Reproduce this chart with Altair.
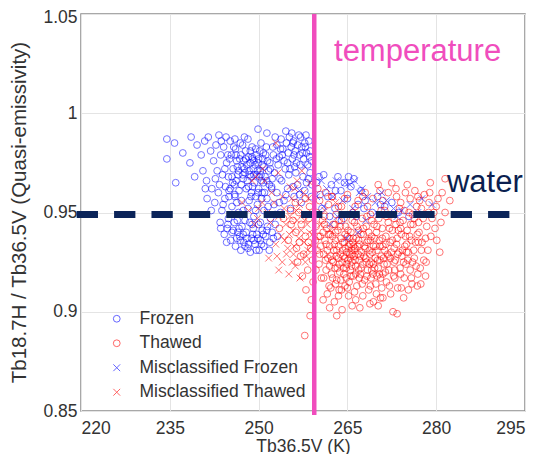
import altair as alt
import pandas as pd

# ---------------- data ----------------
frozen_pts = [
    (234.5,0.987),(235.8,0.985),(234.5,0.977),(236.0,0.965),(238.4,0.975),(238.6,0.988),(239.6,0.984),(240.3,0.979),
    (240.9,0.986),(241.5,0.988),(241.9,0.981),(242.4,0.976),(240.6,0.971),(239.2,0.968),(241.2,0.966),(242.8,0.984),
    (243.3,0.989),(243.6,0.979),(242.1,0.962),(243.0,0.971),(237.2,0.980),(241.0,0.962),
    (244.1,0.983),(244.6,0.975),(244.9,0.968),(245.2,0.986),(245.4,0.979),(245.7,0.972),(245.9,0.964),(246.1,0.982),
    (246.3,0.976),(246.5,0.969),(246.7,0.961),(246.9,0.985),(247.0,0.979),(247.2,0.973),(247.4,0.967),(247.5,0.976),
    (247.7,0.970),(247.8,0.981),(248.0,0.974),(248.1,0.966),(248.3,0.978),(248.4,0.971),(248.6,0.975),(248.7,0.968),
    (248.9,0.983),(249.0,0.977),(249.1,0.972),(249.3,0.965),(249.4,0.974),(249.6,0.979),(249.7,0.969),(249.9,0.975),
    (250.0,0.962),(250.2,0.981),(250.3,0.971),(250.5,0.966),(250.7,0.977),(250.9,0.973),(251.1,0.968),(251.3,0.983),
    (251.5,0.976),(251.8,0.964),(252.0,0.972),(244.4,0.963),(245.0,0.961),(246.0,0.958),(247.9,0.962),(248.8,0.960),
    (249.5,0.958),(251.0,0.960),(252.3,0.967),(252.5,0.979),(247.3,0.984),(248.2,0.987),(246.8,0.977),(247.6,0.972),
    (248.5,0.969),(249.2,0.976),(249.8,0.971),(250.6,0.974),(245.5,0.968),(246.4,0.973),(247.1,0.964),(248.9,0.978),
    (250.1,0.968),(251.2,0.979),(244.8,0.979),(245.8,0.983),(250.4,0.985),(251.7,0.971),(252.2,0.962),(243.9,0.969),
    (246.2,0.966),(249.0,0.963),(250.8,0.965),
    (244.3,0.972),(245.1,0.977),(245.6,0.965),(246.2,0.979),(246.6,0.971),(247.3,0.969),(247.8,0.977),(248.3,0.963),
    (248.6,0.981),(249.2,0.969),(249.5,0.982),(250.0,0.977),(250.4,0.969),(250.8,0.980),(251.4,0.966),(251.9,0.975),
    (252.4,0.983),(252.7,0.970),(253.0,0.977),(253.6,0.967),(246.0,0.987),(247.6,0.988),(243.7,0.986),(244.5,0.988),
    (242.7,0.967),(243.4,0.964),
    (249.9,0.992),(251.4,0.990),(254.6,0.991),(253.1,0.984),(253.5,0.978),(253.8,0.987),(254.1,0.982),(254.3,0.976),
    (254.7,0.985),(255.0,0.980),(255.2,0.988),(255.5,0.983),(255.7,0.977),(255.9,0.986),(256.2,0.981),(256.4,0.975),
    (256.6,0.984),(256.9,0.979),(257.1,0.988),(257.3,0.983),(257.6,0.977),(257.8,0.985),(258.1,0.980),(258.3,0.974),
    (258.5,0.986),(258.7,0.981),(254.9,0.975),(256.0,0.979),(257.0,0.974),(253.3,0.974),(255.3,0.972),(252.8,0.988),
    (256.8,0.989),(258.9,0.976),
    (254.0,0.979),(254.5,0.972),(255.6,0.990),(256.1,0.973),(257.4,0.980),(258.0,0.989),(258.6,0.978),(253.7,0.982),
    (255.8,0.985),(257.9,0.983),
    (241.3,0.957),(242.6,0.955),(243.2,0.960),(243.8,0.951),(244.3,0.957),(244.9,0.947),(245.5,0.953),(246.0,0.959),
    (246.6,0.950),(247.1,0.956),(247.7,0.946),(248.2,0.952),(248.7,0.958),(249.2,0.948),(249.8,0.954),(250.3,0.945),
    (250.9,0.951),(251.4,0.957),(252.0,0.947),(252.6,0.954),(253.1,0.960),(253.7,0.950),(254.3,0.956),(254.9,0.962),
    (255.4,0.952),(256.0,0.958),(256.6,0.964),(257.2,0.955),(257.8,0.961),(258.4,0.967),(258.9,0.958),(253.9,0.966),
    (255.1,0.969),(256.3,0.970),(252.2,0.963),(250.6,0.960),(245.2,0.962),(242.0,0.951),(243.5,0.945),(244.7,0.942),
    (257.5,0.968),(258.7,0.970),(259.0,0.964),
    (244.0,0.954),(245.0,0.958),(246.3,0.955),(247.4,0.951),(248.4,0.956),(249.5,0.951),(250.5,0.957),(251.6,0.953),
    (252.8,0.949),(253.5,0.955),(254.6,0.959),(255.8,0.963),(256.9,0.959),(258.1,0.965),(249.9,0.960),
    (244.2,0.939),(244.8,0.944),(245.3,0.936),(245.7,0.941),(246.1,0.933),(246.4,0.946),(246.8,0.938),(247.2,0.943),
    (247.5,0.935),(247.9,0.940),(248.2,0.932),(248.5,0.945),(248.8,0.937),(249.1,0.942),(249.4,0.934),(249.7,0.939),
    (250.0,0.944),(250.3,0.936),(250.6,0.941),(250.9,0.933),(251.2,0.938),(251.5,0.943),(251.9,0.935),(252.3,0.940),
    (252.8,0.944),(247.0,0.931),(248.6,0.930),(250.1,0.931),(249.2,0.936),(248.0,0.937),(246.5,0.940),(245.9,0.945),
    (243.6,0.942),(253.2,0.938),(251.8,0.931),(247.7,0.933),(249.9,0.937),(250.8,0.939),(246.9,0.936),
    (244.6,0.935),(245.5,0.940),(246.3,0.937),(247.4,0.939),(248.3,0.934),(249.0,0.939),(249.6,0.931),(250.5,0.934),
    (251.4,0.941),(252.5,0.937),(246.7,0.942),(248.9,0.944),
    (259.8,0.965),(260.4,0.959),(261.0,0.969),(261.7,0.958),(262.3,0.964),(262.9,0.952),(263.4,0.968),(263.9,0.961),
    (264.5,0.965),(265.0,0.957),(265.6,0.963),(266.1,0.967),(266.8,0.954),(267.3,0.961),(268.0,0.956),(269.2,0.950),
    (270.1,0.958),(271.3,0.953),(272.5,0.955),(273.6,0.950),(275.4,0.948),(260.7,0.952),(264.0,0.946),(266.5,0.948),
    (262.0,0.948),(260.2,0.968),(263.0,0.961),(265.2,0.968),(267.8,0.952),(270.6,0.954),
]

thawed_pts = [
    (259.7,0.943),(259.9,0.931),(260.2,0.924),(260.4,0.938),(260.6,0.917),(260.8,0.946),(261.0,0.929),
    (261.2,0.936),(261.4,0.921),(261.5,0.942),(261.7,0.927),(261.9,0.913),(262.0,0.933),
    (262.1,0.939),(262.3,0.919),(262.4,0.926),(262.6,0.944),(262.7,0.931),(262.9,0.922),(263.0,0.936),
    (263.1,0.928),(263.2,0.916),(263.4,0.941),(263.5,0.933),(263.6,0.924),(263.8,0.929),(263.9,0.937),(264.0,0.911),
    (264.1,0.925),(264.2,0.931),(264.4,0.919),(264.5,0.935),(264.6,0.927),(264.7,0.943),(264.8,0.922),(264.9,0.930),(265.0,0.938),
    (265.1,0.926),(265.2,0.933),(265.3,0.915),(265.4,0.929),(265.5,0.921),(265.6,0.940),(265.7,0.931),(265.8,0.925),(265.9,0.935),
    (266.0,0.918),(266.1,0.928),(266.2,0.945),(266.3,0.932),(266.4,0.923),(266.5,0.937),(266.6,0.913),(266.8,0.929),(266.9,0.941),
    (267.0,0.926),(267.1,0.934),(267.2,0.919),(267.4,0.930),(267.5,0.947),(267.6,0.924),(267.7,0.939),(267.9,0.916),
    (268.0,0.932),(268.1,0.927),(268.2,0.943),(268.4,0.921),(268.5,0.936),(268.6,0.911),(268.8,0.929),(268.9,0.949),
    (269.0,0.925),(269.1,0.938),(269.3,0.919),(269.4,0.933),(269.5,0.944),(269.7,0.927),(269.8,0.914),(269.9,0.940),
    (270.0,0.931),(270.2,0.922),(270.3,0.947),(270.4,0.936),(270.6,0.917),(270.7,0.928),(270.9,0.942),
    (271.0,0.933),(271.2,0.924),(271.3,0.951),(271.5,0.938),(271.6,0.915),(271.8,0.929),(271.9,0.945),
    (272.0,0.921),(272.2,0.935),(272.3,0.927),(272.5,0.949),(272.6,0.941),(272.8,0.918),(272.9,0.932),
    (273.1,0.926),(273.2,0.944),(273.4,0.937),(273.5,0.912),(273.7,0.930),(273.8,0.952),(273.9,0.922),
    (274.1,0.939),(274.2,0.928),(274.4,0.946),(274.6,0.917),(274.7,0.933),(274.9,0.924),
    (275.1,0.941),(275.3,0.930),(275.4,0.950),(275.6,0.921),(275.8,0.936),(275.9,0.914),
    (276.1,0.944),(276.3,0.927),(276.5,0.935),(276.7,0.953),(276.9,0.919),
    (277.1,0.940),(277.3,0.922),(277.5,0.931),(277.8,0.947),(277.9,0.926),
    (278.2,0.937),(278.4,0.943),(278.6,0.931),(278.8,0.955),
    (279.3,0.947),(279.8,0.942),(280.1,0.936),(280.6,0.930),(281.5,0.950),(280.3,0.957),
    (261.6,0.931),(262.2,0.928),(262.8,0.934),(263.3,0.922),(263.7,0.920),(264.3,0.928),(264.9,0.924),(265.4,0.934),
    (265.8,0.929),(266.3,0.926),(266.7,0.933),(267.3,0.922),(267.8,0.928),(268.3,0.935),(268.7,0.924),(269.2,0.930),
    (269.6,0.922),(270.1,0.926),(270.5,0.933),(271.1,0.927),(271.4,0.920),(262.5,0.917),(263.9,0.916),(265.6,0.918),
    (267.5,0.914),(269.0,0.917),(270.8,0.912),(264.6,0.939),(266.0,0.937),(268.6,0.940),
    (259.8,0.950),(260.3,0.956),(261.1,0.948),(261.8,0.954),(262.4,0.958),(263.1,0.949),(264.0,0.953),(265.0,0.959),
    (265.9,0.950),(266.8,0.956),(267.6,0.958),(268.4,0.953),(269.3,0.957),(270.2,0.964),(271.0,0.956),(271.9,0.960),
    (272.5,0.965),(273.3,0.958),(274.0,0.955),(274.8,0.960),(275.6,0.957),(276.4,0.961),(277.2,0.956),(278.0,0.959),
    (279.0,0.965),(281.0,0.960),(282.3,0.956),(281.5,0.967),(280.0,0.953),(278.7,0.950),(277.5,0.952),(276.0,0.949),
    (268.0,0.960),(262.4,0.958),
    (257.8,0.888),(258.7,0.898),(260.9,0.906),(263.2,0.898),(264.1,0.901),(267.1,0.902),(268.8,0.904),(272.7,0.900),
    (273.4,0.899),(271.0,0.907),(261.6,0.909),(262.8,0.905),(265.2,0.908),(266.4,0.906),(269.9,0.909),(274.5,0.907),
    (275.3,0.911),(276.8,0.913),(278.2,0.918),(277.4,0.914),(270.2,0.903),(263.6,0.911),(262.0,0.902),
    (255.8,0.946),(256.3,0.940),(256.9,0.935),(257.2,0.944),(257.6,0.929),(257.9,0.938),(258.3,0.921),(258.5,0.947),
    (258.8,0.932),(259.1,0.926),(259.2,0.915),(258.0,0.911),(257.4,0.918),(256.6,0.925),(255.4,0.951),(254.2,0.947),
    (253.5,0.942),(255.0,0.936),(256.2,0.955),(258.9,0.906),
    (257.9,0.957),(258.6,0.953),(256.8,0.950),(260.0,0.962),(261.3,0.960),
    (260.5,0.933),(261.3,0.926),(261.8,0.939),(262.6,0.925),(263.0,0.940),(263.5,0.927),(264.2,0.935),(264.8,0.917),
    (265.3,0.937),(265.7,0.923),(266.2,0.931),(266.9,0.921),(267.3,0.939),(267.9,0.933),(268.3,0.918),(268.9,0.936),
    (269.4,0.924),(269.8,0.933),(270.4,0.919),(270.9,0.937),(271.3,0.931),(271.7,0.924),(272.1,0.942),(272.4,0.930),
    (272.9,0.925),(273.3,0.934),(273.6,0.941),(274.0,0.919),(274.3,0.931),(274.8,0.938),(275.2,0.926),(275.7,0.944),
    (276.2,0.931),(276.6,0.923),(277.0,0.935),(262.9,0.944),(264.4,0.947),(266.6,0.943),(269.1,0.946),(271.6,0.948),
    (273.9,0.945),(275.0,0.934),(267.0,0.917),(265.0,0.912),(263.0,0.914),(261.0,0.917),(270.0,0.918),(272.1,0.913),
    (273.0,0.917),(260.1,0.938),
    (260.3,0.929),(260.9,0.940),(261.4,0.934),(262.0,0.923),(262.5,0.938),(263.2,0.931),(263.8,0.943),(264.3,0.922),
    (264.7,0.932),(265.1,0.941),(265.5,0.927),(266.0,0.933),(266.4,0.919),(266.9,0.936),(267.2,0.928),(267.7,0.942),
    (268.2,0.925),(268.7,0.931),(269.1,0.921),(269.6,0.937),(270.0,0.943),(270.5,0.926),(271.0,0.919),(271.5,0.934),
    (272.0,0.928),(272.6,0.936),(273.0,0.921),(273.5,0.929),(274.0,0.942),(274.5,0.925),(275.0,0.930),(275.5,0.938),
    (276.0,0.925),(276.8,0.939),(277.6,0.935),(278.3,0.925),(279.1,0.938),(279.6,0.950),(280.8,0.945),(278.9,0.960),
    (262.2,0.912),(263.5,0.908),(264.6,0.913),(266.2,0.910),(267.6,0.908),(268.9,0.913),(270.6,0.907),(272.3,0.909),
    (274.1,0.912),(275.8,0.917),(269.4,0.905),(265.8,0.903),
    (261.1,0.944),(263.6,0.946),(265.8,0.946),(268.3,0.948),(270.7,0.951),(272.9,0.947),(274.6,0.951),(276.3,0.947),
    (277.0,0.945),(270.5,0.961),(273.2,0.962),(275.1,0.964),(276.9,0.958),(266.3,0.953),(264.5,0.957),(263.5,0.953),
    (259.6,0.936),(259.7,0.921),(258.4,0.935),(257.1,0.928),(256.4,0.932),(255.5,0.944),
]

mis_frozen_pts = [
    (260.6,0.966),(261.5,0.962),(262.6,0.958),(263.1,0.966),(264.6,0.965),(265.4,0.964),(266.2,0.966),(267.5,0.962),
    (268.4,0.958),(269.7,0.955),(270.8,0.960),(271.6,0.956),(272.8,0.952),(274.2,0.951),(275.6,0.954),(279.3,0.954),
    (276.9,0.950),(264.2,0.956),(265.9,0.952),(263.3,0.948),(262.1,0.944),(266.8,0.940),(268.1,0.946),(261.0,0.953),
    (259.8,0.958),(270.3,0.949),(273.4,0.948),(277.6,0.957),(264.9,0.937),(267.0,0.960),(256.9,0.961),(257.8,0.973),
]

mis_thawed_pts = [
    (252.9,0.985),(250.7,0.972),(253.3,0.970),(248.9,0.966),(255.3,0.963),(256.5,0.966),(257.6,0.960),(258.4,0.957),
    (256.9,0.954),(255.6,0.957),(254.3,0.952),(253.4,0.948),(252.6,0.955),(251.5,0.950),(250.6,0.955),(249.8,0.947),
    (257.4,0.949),(258.2,0.944),(256.5,0.946),(255.8,0.941),(254.6,0.944),(253.8,0.938),(252.9,0.934),(254.9,0.932),
    (255.9,0.929),(256.8,0.937),(257.7,0.935),(258.6,0.940),(256.2,0.923),(255.1,0.919),(254.0,0.925),(253.4,0.921),
    (257.0,0.917),(258.1,0.928),(251.7,0.927),(252.0,0.945),(248.3,0.951),(249.3,0.944),(247.2,0.955),(246.8,0.949),
    (259.0,0.950),(258.9,0.933),(257.9,0.925),(256.0,0.933),(254.4,0.936),(255.3,0.948),(256.1,0.962),(254.0,0.958),
    (252.2,0.960),(251.0,0.966),(250.0,0.952),(257.3,0.971),(258.7,0.965),(259.1,0.939),(249.6,0.968),(260.5,0.944),
    (261.2,0.951),(262.1,0.941),(263.0,0.955),(253.1,0.928),(255.7,0.925),(257.2,0.941),
    (256.4,0.951),(257.8,0.946),(255.2,0.939),(258.3,0.931),(254.7,0.929),
]

classes = ["Frozen", "Thawed", "Misclassified Frozen", "Misclassified Thawed"]
class_colors = ["#0000ff", "#ff0000", "#0000ff", "#ff0000"]

x_ticks = [220, 235, 250, 265, 280, 295]
y_ticks = [0.85, 0.9, 0.95, 1.0, 1.05]

temp_line_x = 259.4
water_line_y = 0.949
water_line_x = [219.27, 292.38]

annotations = ["temperature", "water"]

# ---------------- build table ----------------
rows = []
for name, pts in zip(classes, [frozen_pts, thawed_pts, mis_frozen_pts, mis_thawed_pts]):
    for x, y in pts:
        rows.append({"tb": x, "ratio": y, "cls": name})
df = pd.DataFrame(rows)

cross = "M -1 -1 L 1 1 M -1 1 L 1 -1"
FONT = "Liberation Sans"

xscale = alt.Scale(domain=[220, 295], nice=False, zero=False)
yscale = alt.Scale(domain=[0.85, 1.05], nice=False, zero=False)

points = alt.Chart(df).mark_point(filled=False, strokeWidth=1, opacity=0.55).encode(
    x=alt.X("tb:Q", scale=xscale,
            axis=alt.Axis(values=x_ticks, title="Tb36.5V (K)", grid=True, gridColor="#e4e4e4",
                          domain=False, ticks=False, labelFontSize=17.5, labelColor="#333333",
                          labelPadding=8, labelFont=FONT, titleFont=FONT, titleFontSize=17.5,
                          titleFontWeight="normal", titleColor="#333333",
                          titleBaseline="alphabetic", titleY=40)),
    y=alt.Y("ratio:Q", scale=yscale,
            axis=alt.Axis(values=y_ticks, format="~g", title="Tb18.7H / Tb36.5V (Quasi-emissivity)",
                          grid=True, gridColor="#e4e4e4", domain=False, ticks=False,
                          labelFontSize=17.5, labelColor="#333333", labelPadding=4, labelFont=FONT,
                          labelOffset={"condition": {"test": "datum.value > 1.04", "value": 3}, "value": 0},
                          titleFont=FONT, titleFontSize=20.5, titleFontWeight="normal",
                          titleColor="#333333", titleX=-62, titleY=198, titleAngle=-90,
                          titleBaseline="middle", titleAlign="center")),
    color=alt.Color("cls:N", scale=alt.Scale(domain=classes, range=class_colors), title=None,
                    legend=alt.Legend(orient="none", legendX=27, legendY=296, labelFontSize=17.5,
                                      labelFont=FONT, labelColor="#333333", labelOffset=14,
                                      labelLimit=0, rowPadding=5.5, symbolStrokeWidth=1,
                                      symbolOpacity=0.6, padding=0, symbolSize=32)),
    shape=alt.Shape("cls:N", scale=alt.Scale(domain=classes, range=["circle", "circle", cross, cross]),
                    title=None),
    size=alt.Size("cls:N", scale=alt.Scale(domain=classes, range=[46, 46, 22, 22]), legend=None),
)

vline = alt.Chart(pd.DataFrame({"x": [temp_line_x], "y1": [1.05], "y2": [0.848]})).mark_rule(
    color="#f04dbd", strokeWidth=4.5).encode(
    x=alt.X("x:Q", scale=xscale), y=alt.Y("y1:Q", scale=yscale), y2="y2:Q")

hline = alt.Chart(pd.DataFrame({"y": [water_line_y], "x1": [water_line_x[0]], "x2": [water_line_x[1]]})).mark_rule(
    color="#0b2459", strokeWidth=7, strokeDash=[21.3, 16.1]).encode(
    y=alt.Y("y:Q", scale=yscale), x=alt.X("x1:Q", scale=xscale), x2="x2:Q")

temp_text = alt.Chart(pd.DataFrame({"x": [262.74], "y": [1.0263], "t": [annotations[0]]})).mark_text(
    align="left", baseline="alphabetic", fontSize=31, font=FONT, color="#f04dbd").encode(
    x=alt.X("x:Q", scale=xscale), y=alt.Y("y:Q", scale=yscale), text="t:N")

water_text = alt.Chart(pd.DataFrame({"x": [281.82], "y": [0.9601], "t": [annotations[1]]})).mark_text(
    align="left", baseline="alphabetic", fontSize=31, font=FONT, color="#0b1f50").encode(
    x=alt.X("x:Q", scale=xscale), y=alt.Y("y:Q", scale=yscale), text="t:N")

chart = alt.layer(points, hline, vline, temp_text, water_text).properties(
    width=444, height=397,
    autosize=alt.AutoSizeParams(type="none"),
    padding={"left": 73, "top": 6, "right": 6, "bottom": 43},
).configure_view(stroke="#8c8c8c", strokeWidth=1.5)

chart.save("out.html", embed_options={"renderer": "svg", "actions": False})
